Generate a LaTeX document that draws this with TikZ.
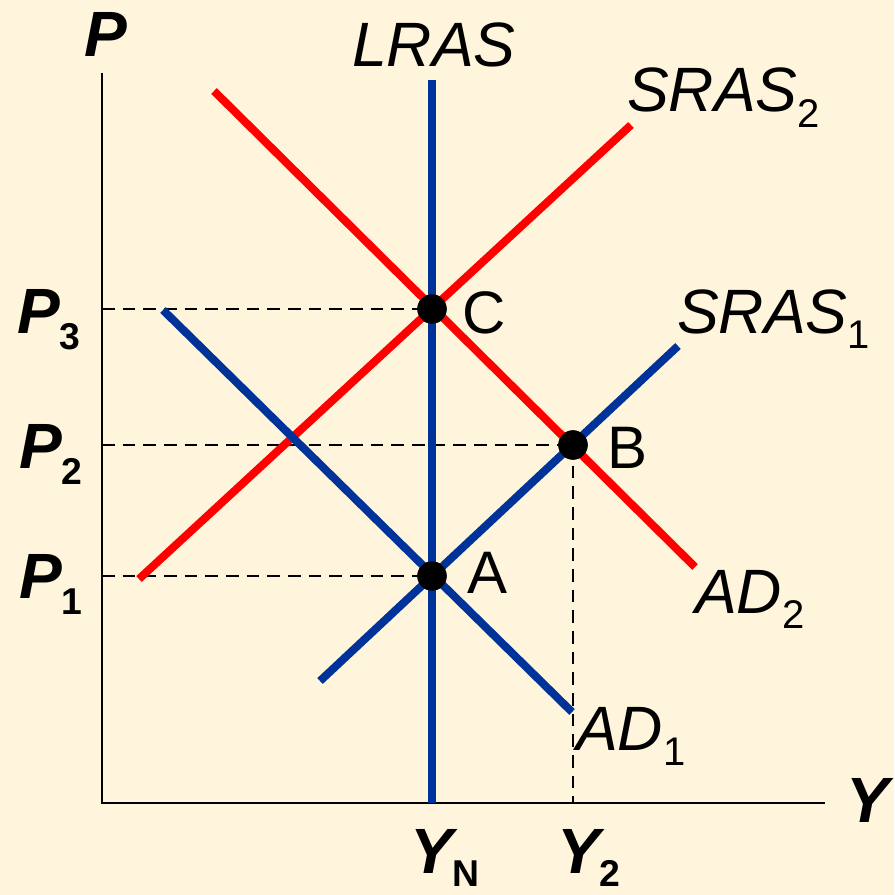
\documentclass[tikz,border=0pt]{standalone}
\usepackage{fontspec}
\setmainfont{Liberation Sans}
\definecolor{bgcream}{RGB}{255,245,220}
\definecolor{adblue}{RGB}{0,51,153}
\definecolor{adred}{RGB}{255,0,0}
\newcommand{\labfont}{\fontsize{47}{50}\selectfont\itshape}
\newcommand{\subfont}{\fontsize{30}{30}\selectfont\upshape}
\newcommand{\bigfont}{\fontsize{48}{50}\selectfont\bfseries\itshape}
\newcommand{\bsubfont}{\fontsize{28}{28}\selectfont\bfseries\upshape}
\newcommand{\ptfont}{\fontsize{45}{48}\selectfont}
\newcommand{\lab}[2]{{\labfont #1}\raisebox{-11.5pt}{\subfont #2}}
\newcommand{\blab}[2]{{\bigfont #1}\raisebox{-12.5pt}{\bsubfont #2}}
\newcommand{\blabx}[2]{{\bigfont #1}\raisebox{-10pt}{\bsubfont #2}}
\begin{document}
\begin{tikzpicture}[x=0.75pt,y=-0.75pt,
  txt/.style={anchor=base west,inner sep=0pt,outer sep=0pt},
  axisline/.style={line width=2pt,black},
  guide/.style={line width=1.5pt,black,dash pattern=on 9.5pt off 6pt},
  redcurve/.style={line width=6pt,adred},
  bluecurve/.style={line width=6pt,adblue},
  eqdot/.style={circle,fill=black,inner sep=0pt,minimum size=22pt}]
\fill[bgcream] (0,0) rectangle (894,895);
\useasboundingbox (0,0) rectangle (894,895);
% named points
\coordinate (ytop) at (102,73);
\coordinate (orig) at (102,803);
\coordinate (xend) at (825,803);
\coordinate (p3) at (102,309);
\coordinate (p2) at (102,445);
\coordinate (p1) at (102,576);
\coordinate (y2) at (573,803);
\coordinate (lrasT) at (432,80);
\coordinate (lrasB) at (432,803);
\coordinate (s2a) at (139,579);
\coordinate (s2b) at (631,125);
\coordinate (ad2a) at (214,91);
\coordinate (ad2b) at (695,567);
\coordinate (s1a) at (320,681);
\coordinate (s1b) at (678,346);
\coordinate (ad1a) at (163,310);
\coordinate (ad1b) at (572,712);
\node[eqdot] (C) at (432,309) {};
\node[eqdot] (B) at (573,445) {};
\node[eqdot] (A) at (432,576) {};
% axes
\draw[axisline] (ytop) -- (orig) -- (xend);
% guides
\draw[guide] (p3) -- (C.center);
\draw[guide] (p2) -- (B.center);
\draw[guide] (p1) -- (A.center);
\draw[guide] (B.center) -- (y2);
% curves
\draw[redcurve] (s2a) -- (s2b);
\draw[redcurve] (ad2a) -- (ad2b);
\draw[bluecurve] (s1a) -- (s1b);
\draw[bluecurve] (ad1a) -- (ad1b);
\draw[bluecurve] (lrasT) -- (lrasB);
% dots on top
\node[eqdot] at (C) {};
\node[eqdot] at (B) {};
\node[eqdot] at (A) {};
% labels
\node[txt] (lP) at (84,57) {\bigfont P};
\node[txt] (lY) at (846,822) {\bigfont Y};
\node[txt] (lLRAS) at (352,67) {\labfont LRAS};
\node[txt] (lS2) at (627,112) {\lab{SRAS}{2}};
\node[txt] (lS1) at (677,333) {\lab{SRAS}{1}};
\node[txt] (lAD2) at (695,613) {\lab{AD}{2}};
\node[txt] (lAD1) at (576,750) {\lab{AD}{1}};
\node[txt] (lC) at (462,333) {\ptfont C};
\node[txt] (lB) at (607,468) {\ptfont B};
\node[txt] (lA) at (467,593) {\ptfont A};
\node[txt] (lP3) at (17,333) {\blab{P}{3}};
\node[txt] (lP2) at (19,468) {\blab{P}{2}};
\node[txt] (lP1) at (19,598) {\blab{P}{1}};
\node[txt] (lYN) at (410,873) {\blabx{Y}{N}};
\node[txt] (lY2) at (557,873) {\blabx{Y}{2}};
\end{tikzpicture}
\end{document}
